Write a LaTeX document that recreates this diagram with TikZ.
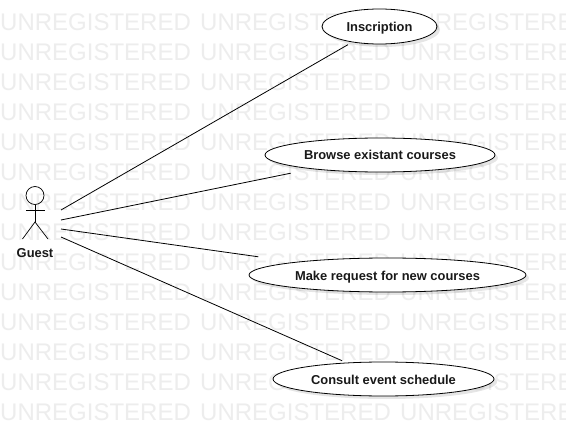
\documentclass[tikz,border=0pt]{standalone}
\usepackage{fontspec}
\setmainfont{Liberation Sans}
\usetikzlibrary{shapes.geometric,shadows}
\tikzset{
  x=1pt,y=-1pt,
  wm/.style={anchor=base west,inner sep=0pt,text=black!7,font=\fontsize{24}{24}\selectfont},
  usecase/.style={ellipse,draw=black,line width=0.8pt,fill=white,inner sep=0pt,
    font=\fontsize{12.9}{14}\selectfont\bfseries,text=black!90,text height=11pt,text depth=1pt,
    drop shadow={shadow xshift=3pt,shadow yshift=-3pt,fill=black,opacity=0.10}},
  limit/.style={rectangle,inner sep=0pt},
  link/.style={draw=black,line width=0.8pt},
  stick/.style={draw=black,line width=0.7pt},
}
\begin{document}
\begin{tikzpicture}
\useasboundingbox (0,0) rectangle (566,436);
\fill[white] (0,0) rectangle (566,436);
\begin{scope}
\clip (0,0) rectangle (566,436);
\foreach \r in {0,...,13}{
  \foreach \c in {0,1,2}{
    \node[wm] (wm\r\c) at ({200*\c},{30.5+30*\r}) {UNREGISTERED};
  }
}
\end{scope}
% actor
\node[circle,stick,minimum size=18pt,inner sep=0pt] (head) at (35,195.5) {};
\coordinate (armL) at (26,210.7);
\coordinate (armR) at (44.7,210.7);
\coordinate (hip) at (35,222);
\coordinate (footL) at (22.5,239);
\coordinate (footR) at (48,239);
\draw[stick] (head.south) -- (hip);
\draw[stick] (armL) -- (armR);
\draw[stick] (footL) -- (hip) -- (footR);
\node[inner sep=0pt,font=\fontsize{12.9}{14}\selectfont\bfseries,text=black!90] (guest) at (35,253) {Guest};
% use cases
\node[usecase,minimum width=115pt,minimum height=35pt] (ins) at (379.5,26.5) {Inscription};
\node[usecase,minimum width=230pt,minimum height=34pt] (bro) at (380,155) {Browse existant courses};
\node[usecase,minimum width=277pt,minimum height=34pt] (mak) at (387.5,275) {Make request for new courses};
\node[usecase,minimum width=221pt,minimum height=34pt] (con) at (383.5,379) {Consult event schedule};
% rectangular limits at which the connectors stop
\node[limit,minimum width=115pt,minimum height=36pt] (insB) at (ins) {};
\node[limit,minimum width=230pt,minimum height=36pt] (broB) at (bro) {};
\node[limit,minimum width=277pt,minimum height=36pt] (makB) at (mak) {};
\node[limit,minimum width=221pt,minimum height=36pt] (conB) at (con) {};
% connector starts
\coordinate (a1) at (61,210);
\coordinate (a2) at (61,220);
\coordinate (a3) at (61,229);
\coordinate (a4) at (61,237);
\draw[link] (a1) -- (insB);
\draw[link] (a2) -- (broB);
\draw[link] (a3) -- (makB);
\draw[link] (a4) -- (conB);
\end{tikzpicture}
\end{document}
